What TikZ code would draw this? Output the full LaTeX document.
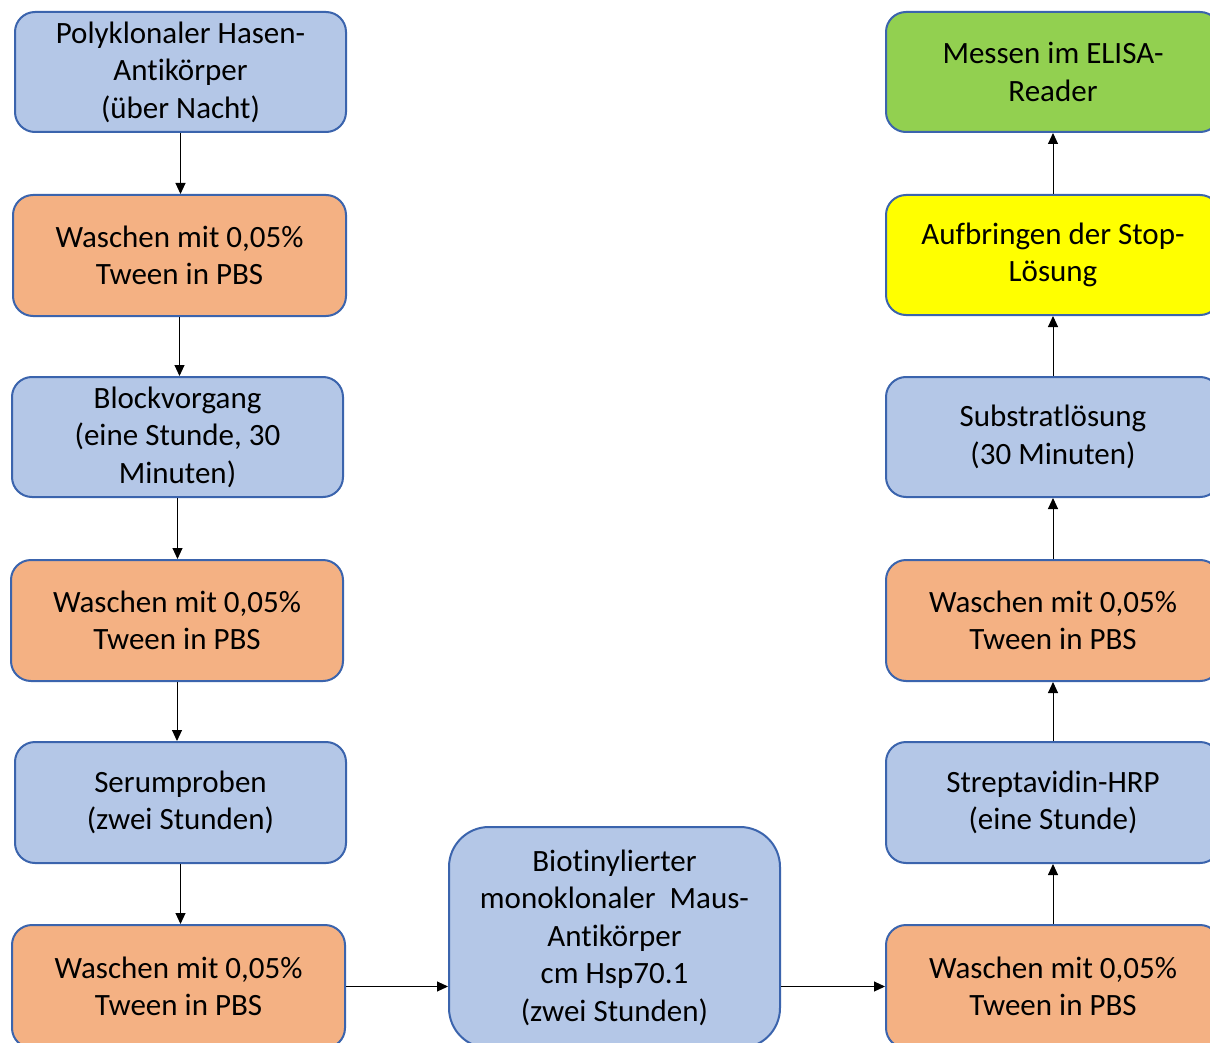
\documentclass[tikz,border=0pt]{standalone}
\usepackage{fontspec}
\setmainfont[Ligatures=NoCommon]{Carlito}
\usetikzlibrary{arrows.meta}
\definecolor{boxblue}{HTML}{B4C7E7}
\definecolor{boxorange}{HTML}{F4B183}
\definecolor{boxgreen}{HTML}{92D050}
\definecolor{boxyellow}{HTML}{FFFF00}
\definecolor{edgeblue}{HTML}{3B64AD}
\tikzset{
  stepbox/.style={draw=edgeblue, line width=2pt, rounded corners=20pt,
    align=center, inner sep=0pt, minimum height=120pt, minimum width=332pt,
    font=\fontsize{31}{37.5}\selectfont,
    execute at begin node={\rule{0pt}{31pt}}},
  flow/.style={draw=black, line width=1pt, -{Triangle[length=11pt,width=10pt]}}
}
\begin{document}
\begin{tikzpicture}[x=1pt,y=-1pt]
\useasboundingbox (0,0) rectangle (1210,1043);
\clip (0,0) rectangle (1210,1043);
\fill[white] (0,0) rectangle (1210,1043);
% left column, top to bottom
\node[stepbox, fill=boxblue, minimum width=331pt] (l1) at (180.5,72)
  {Polyklonaler Hasen-\\Antikörper\\(über Nacht)};
\node[stepbox, fill=boxorange, minimum width=333pt, minimum height=121pt] (l2) at (179.5,255.5)
  {Waschen mit 0,05\%\\Tween in PBS};
\node[stepbox, fill=boxblue, minimum width=331pt] (l3) at (177.5,437)
  {Blockvorgang\\(eine Stunde, 30\\Minuten)};
\node[stepbox, fill=boxorange, minimum height=121pt] (l4) at (177,620.5)
  {Waschen mit 0,05\%\\Tween in PBS};
\node[stepbox, fill=boxblue, minimum width=331pt, minimum height=121pt] (l5) at (180.5,802.5)
  {Serumproben\\(zwei Stunden)};
\node[stepbox, fill=boxorange, minimum width=333pt, minimum height=123pt] (l6) at (178.5,986.5)
  {Waschen mit 0,05\%\\Tween in PBS};
% middle box
\node[stepbox, fill=boxblue, rounded corners=40pt, minimum width=331pt, minimum height=221pt] (m) at (614.5,937.5)
  {Biotinylierter\\monoklonaler\ \ Maus-\\Antikörper\\cm Hsp70.1\\(zwei Stunden)};
% right column, bottom to top
\node[stepbox, fill=boxorange, minimum width=334pt, minimum height=123pt] (r6) at (1053,986.5)
  {Waschen mit 0,05\%\\Tween in PBS};
\node[stepbox, fill=boxblue, minimum width=334pt, minimum height=121pt] (r5) at (1053,802.5)
  {Streptavidin-HRP\\(eine Stunde)};
\node[stepbox, fill=boxorange, minimum width=334pt, minimum height=121pt] (r4) at (1053,620.5)
  {Waschen mit 0,05\%\\Tween in PBS};
\node[stepbox, fill=boxblue, minimum width=334pt] (r3) at (1053,437)
  {Substratlösung\\(30 Minuten)};
\node[stepbox, fill=boxyellow, minimum width=334pt] (r2) at (1053,255)
  {Aufbringen der Stop-\\Lösung};
\node[stepbox, fill=boxgreen, minimum width=334pt] (r1) at (1053,72)
  {Messen im ELISA-\\Reader};
% connectors
\draw[flow] (l1.south) -- (l1.south |- l2.north);
\draw[flow] (l2.south) -- (l2.south |- l3.north);
\draw[flow] (l3.south) -- (l3.south |- l4.north);
\draw[flow] (l4.south) -- (l4.south |- l5.north);
\draw[flow] (l5.south) -- (l5.south |- l6.north);
\draw[flow] (l6.east) -- (l6.east -| m.west);
\draw[flow] (r6.west -| m.east) -- (r6.west);
\draw[flow] (r6.north) -- (r5.south);
\draw[flow] (r5.north) -- (r4.south);
\draw[flow] (r4.north) -- (r3.south);
\draw[flow] (r3.north) -- (r2.south);
\draw[flow] (r2.north) -- (r1.south);
\end{tikzpicture}
\end{document}
